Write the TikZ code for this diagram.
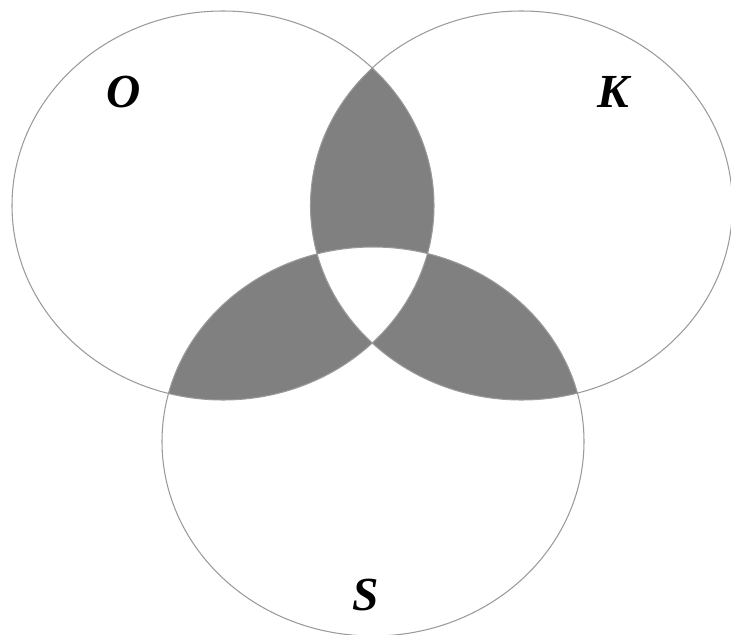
\documentclass[tikz,border=0pt]{standalone}
\usepackage{fontspec}
\setmainfont{Liberation Serif}
\usepackage{xcolor}
\usepackage{tikz}

\definecolor{lensgray}{HTML}{808080}
\definecolor{rimgray}{HTML}{9A9A9A}

\begin{document}
\begin{tikzpicture}[
  x=0.02cm, y=-0.02cm,
  ring/.style={x radius=211, y radius=194.5},
  rim/.style={draw=rimgray, line width=0.6pt},
  lens/.style={fill=lensgray},
  setlabel/.style={font=\fontsize{27}{30}\selectfont\bfseries\itshape, inner sep=0pt}
]
\useasboundingbox (0,0) rectangle (731,635);

\coordinate (cO) at (223,205.5);
\coordinate (cK) at (521.5,205.5);
\coordinate (cS) at (373,441.5);

% pairwise overlaps
\begin{scope}
  \clip (cO) ellipse [ring];
  \fill[lens] (cK) ellipse [ring];
  \fill[lens] (cS) ellipse [ring];
\end{scope}
\begin{scope}
  \clip (cK) ellipse [ring];
  \fill[lens] (cS) ellipse [ring];
\end{scope}

% centre stays white
\begin{scope}
  \clip (cO) ellipse [ring];
  \clip (cK) ellipse [ring];
  \fill[white] (cS) ellipse [ring];
\end{scope}

\draw[rim] (cO) ellipse [ring];
\draw[rim] (cK) ellipse [ring];
\draw[rim] (cS) ellipse [ring];

\node[setlabel] (labelO) at (124,92) {O};
\node[setlabel] (labelK) at (613,92) {K};
\node[setlabel] (labelS) at (366,595) {S};
\end{tikzpicture}
\end{document}
